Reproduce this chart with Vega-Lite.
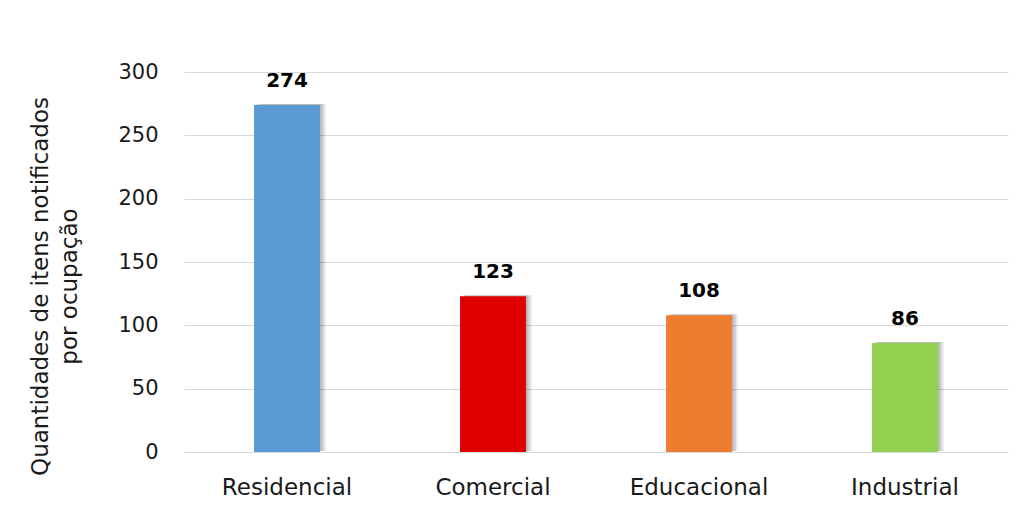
{
  "$schema": "https://vega.github.io/schema/vega-lite/v6.json",
  "width": 824,
  "height": 380,
  "autosize": {"type": "none"},
  "padding": {"left": 184, "top": 72, "right": 19, "bottom": 64},
  "background": "white",
  "config": {
    "view": {"stroke": null},
    "font": "DejaVu Sans"
  },
  "data": {
    "values": [
      {"ocupacao": "Residencial", "valor": 274, "cor": "#5B9BD5"},
      {"ocupacao": "Comercial", "valor": 123, "cor": "#E00000"},
      {"ocupacao": "Educacional", "valor": 108, "cor": "#ED7D31"},
      {"ocupacao": "Industrial", "valor": 86, "cor": "#92D050"}
    ]
  },
  "encoding": {
    "x": {
      "field": "ocupacao",
      "type": "nominal",
      "sort": null,
      "scale": {"paddingInner": 0.68, "paddingOuter": 0.34},
      "axis": {
        "title": null,
        "labelAngle": 0,
        "labelFont": "DejaVu Sans",
        "labelFontSize": 23,
        "labelColor": "#1a1a1a",
        "labelPadding": 24,
        "ticks": false,
        "domainColor": "#d9d9d9",
        "domainWidth": 1
      }
    },
    "y": {
      "field": "valor",
      "type": "quantitative",
      "scale": {"domain": [0, 300], "nice": false},
      "axis": {
        "values": [0, 50, 100, 150, 200, 250, 300],
        "title": ["Quantidades de itens notificados", "por ocupação"],
        "titleFont": "DejaVu Sans",
        "titleFontSize": 23,
        "titleFontWeight": "normal",
        "titleColor": "#1a1a1a",
        "titleLineHeight": 29,
        "titlePadding": 36,
        "titleY": 214,
        "labelFont": "DejaVu Sans",
        "labelFontSize": 21,
        "labelColor": "#1a1a1a",
        "labelPadding": 26,
        "ticks": false,
        "domain": false,
        "gridColor": "#d9d9d9",
        "gridWidth": 1
      }
    }
  },
  "layer": [
    {"mark": {"type": "bar", "color": "#000000", "opacity": 0.1, "xOffset": 2, "yOffset": -1}},
    {"mark": {"type": "bar", "color": "#000000", "opacity": 0.1, "xOffset": 4, "yOffset": -1}},
    {"mark": {"type": "bar", "color": "#000000", "opacity": 0.08, "xOffset": 6, "yOffset": -1}},
    {
      "mark": {"type": "bar"},
      "encoding": {"color": {"field": "cor", "type": "nominal", "scale": null, "legend": null}}
    },
    {
      "mark": {"type": "text", "dy": -24, "fontSize": 20, "fontWeight": "bold", "font": "DejaVu Sans", "color": "#000000"},
      "encoding": {"text": {"field": "valor", "type": "quantitative"}}
    }
  ]
}
